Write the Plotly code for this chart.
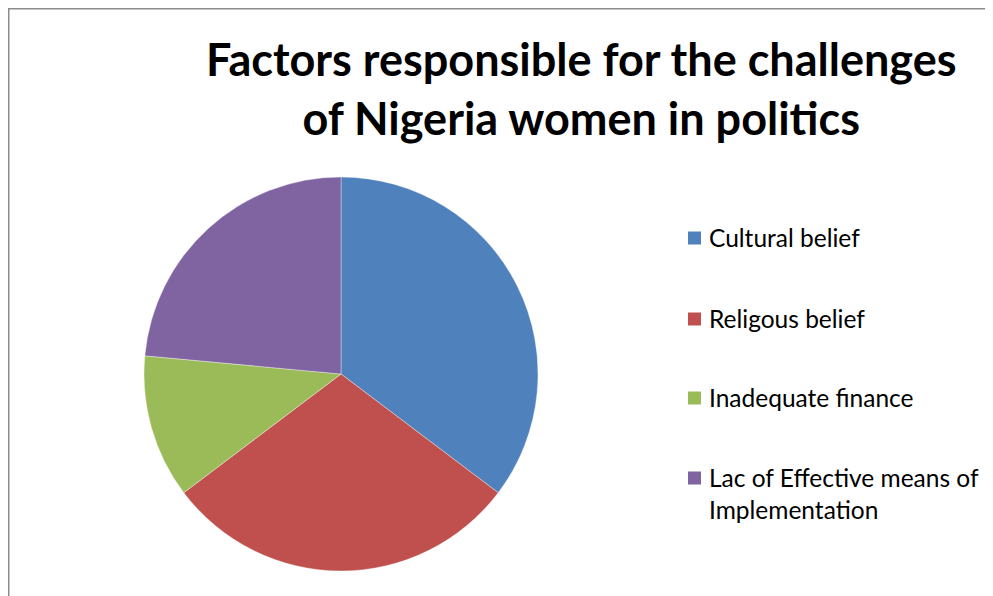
import plotly.graph_objects as go

W, H = 993, 596
OX, OY = 8, 8  # page body margin offset

categories = ["Cultural belief", "Religous belief", "Inadequate finance",
              "Lac of Effective means of<br>Implementation"]
values = [6, 5, 2, 4]
colors = ["#4F81BD", "#C0504D", "#9BBB59", "#8064A2"]
title_text = "Factors responsible for the challenges<br>of Nigeria women in politics"

def px(x):
    return (x - OX) / W

def py(y):
    return 1 - (y - OY) / H

cx, cy, r = 341, 374, 197

fig = go.Figure()
fig.add_trace(go.Pie(
    labels=categories, values=values, sort=False, direction="clockwise",
    rotation=0, marker=dict(colors=colors, line=dict(color="rgba(255,255,255,0.6)", width=0.6)),
    textinfo="none", hoverinfo="label+value", showlegend=False,
    domain=dict(x=[px(cx - r), px(cx + r)], y=[py(cy + r), py(cy - r)]),
))

shapes = [dict(type="rect", xref="paper", yref="paper",
               x0=px(8.75), x1=px(1100), y0=py(800), y1=py(8.75),
               line=dict(color="#8c8c8c", width=1.5), fillcolor="rgba(0,0,0,0)")]
annotations = [dict(text="<b>" + title_text + "</b>", xref="paper", yref="paper",
                    x=px(581), y=py(88), xanchor="center", yanchor="middle",
                    showarrow=False, align="center",
                    font=dict(family="Lato", size=45, color="#000000"))]

item_y = [238, 319, 398, 478]
for cat, col, yy in zip(categories, colors, item_y):
    shapes.append(dict(type="rect", xref="paper", yref="paper",
                       x0=px(688), x1=px(701), y0=py(yy + 6.5), y1=py(yy - 6.5),
                       fillcolor=col, line=dict(width=0)))
    annotations.append(dict(text=cat, xref="paper", yref="paper",
                            x=px(707), y=py(yy - 17), xanchor="left", yanchor="top",
                            showarrow=False, align="left",
                            font=dict(family="Lato", size=24.5, color="#000000")))

fig.update_layout(
    width=W, height=H, margin=dict(l=0, r=0, t=0, b=0),
    paper_bgcolor="white", plot_bgcolor="white",
    shapes=shapes, annotations=annotations,
)
fig.write_html("out.html")
